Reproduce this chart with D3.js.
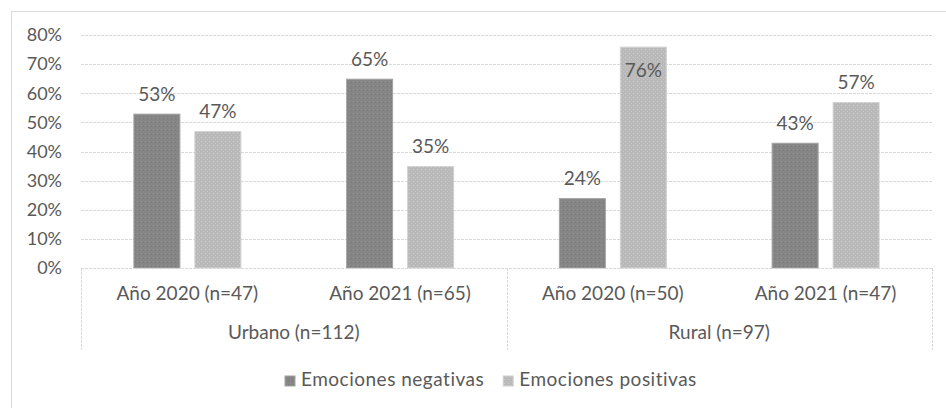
<!DOCTYPE html>
<html><head><meta charset="utf-8">
<script src="https://cdn.jsdelivr.net/npm/d3@7"></script>
<style>
html,body{margin:0;padding:0;background:#fff;}
svg{display:block;font-family:Lato,"Open Sans",sans-serif;}
</style></head>
<body>
<svg id="chart" width="946" height="408"></svg>
<script>
const categories = ["Año 2020 (n=47)","Año 2021 (n=65)","Año 2020 (n=50)","Año 2021 (n=47)"];
const groupLabels = ["Urbano (n=112)","Rural (n=97)"];
const groupOfCategory = [0,0,1,1];
const seriesNames = ["Emociones negativas","Emociones positivas"];
const negativas = [53,65,24,43];
const positivas = [47,35,76,57];
const yTicks = [0,10,20,30,40,50,60,70,80];

const W = 946, H = 408;
const svg = d3.select("#chart");
const textColor = "#595959";
const gridColor = "#d9d9d9";
const colors = ["#858585","#b9b9b9"];
const strokes = ["#a3a3a3","#d2d2d2"];
const fontSize = 19;

// patterns to mimic texture
const defs = svg.append("defs");
const p0 = defs.append("pattern").attr("id","pat0").attr("width",4).attr("height",4).attr("patternUnits","userSpaceOnUse");
p0.append("rect").attr("width",4).attr("height",4).attr("fill",colors[0]);
p0.append("rect").attr("x",1).attr("y",1).attr("width",1).attr("height",1).attr("fill","#929292");
p0.append("rect").attr("x",3).attr("y",2).attr("width",1).attr("height",1).attr("fill","#7a7a7a");
const p1 = defs.append("pattern").attr("id","pat1").attr("width",4).attr("height",4).attr("patternUnits","userSpaceOnUse");
p1.append("rect").attr("width",4).attr("height",4).attr("fill",colors[1]);
p1.append("rect").attr("x",1).attr("y",1).attr("width",1).attr("height",1).attr("fill","#cdcdcd");
p1.append("rect").attr("x",3).attr("y",3).attr("width",1).attr("height",1).attr("fill","#c6c6c6");

// chart border (top/left visible)
svg.append("rect").attr("x",11.5).attr("y",11.5).attr("width",W).attr("height",H)
  .attr("fill","none").attr("stroke",gridColor);

const plot = {left:81, right:932, top:35, bottom:268};
const y = d3.scaleLinear().domain([0,80]).range([plot.bottom, plot.top]);
const x = d3.scaleBand().domain(categories.map((c,i)=>i)).range([plot.left, plot.right]).padding(0);
const groupW = 108;
const xi = d3.scaleBand().domain([0,1]).range([0,groupW]).paddingInner(2-108/61).paddingOuter(0);

// gridlines
svg.append("g").selectAll("line").data(yTicks.filter(t=>t>0)).join("line")
  .attr("x1",plot.left).attr("x2",plot.right)
  .attr("y1",d=>Math.round(y(d))+0.5).attr("y2",d=>Math.round(y(d))+0.5)
  .attr("stroke",gridColor).attr("stroke-dasharray","3,1");

// y axis labels
const yAxis = d3.axisLeft(y).tickValues(yTicks).tickFormat(d=>d+"%").tickSize(0).tickPadding(19);
const ya = svg.append("g").attr("transform",`translate(${plot.left},0)`).call(yAxis);
ya.select(".domain").remove();
ya.selectAll("text").attr("fill",textColor).style("font-size","18px").style("font-family","Lato");

// bars
const data = [];
categories.forEach((c,i)=>{
  data.push({cat:i, s:0, v:negativas[i]});
  data.push({cat:i, s:1, v:positivas[i]});
});
const bx = d => x(d.cat) + (x.bandwidth()-groupW)/2 + xi(d.s);
svg.append("g").selectAll("rect").data(data).join("rect")
  .attr("x",d=>bx(d)+0.5).attr("width",xi.bandwidth()-1)
  .attr("y",d=>y(d.v)+0.5).attr("height",d=>y(0)-y(d.v)-0.5)
  .attr("fill",d=>`url(#pat${d.s})`).attr("stroke",d=>strokes[d.s]).attr("stroke-width",1);

// data labels
svg.append("g").selectAll("text").data(data).join("text")
  .attr("x",d=>bx(d)+xi.bandwidth()/2)
  .attr("y",d=>{ const above = y(d.v)-13; return (above - fontSize*0.75 < plot.top) ? y(d.v)+30 : above; })
  .attr("text-anchor","middle").attr("fill",textColor).style("font-size",fontSize+"px")
  .text(d=>d.v+"%");

// category axis box
const boxBottom = 350;
const axisG = svg.append("g");
axisG.append("line").attr("x1",plot.left).attr("x2",plot.right).attr("y1",plot.bottom+0.5).attr("y2",plot.bottom+0.5)
  .attr("stroke",gridColor).attr("stroke-dasharray","3,1");
const seps = [x(0), x(2), x(3)+x.bandwidth()];
axisG.selectAll("line.sep").data(seps).join("line").attr("class","sep")
  .attr("x1",d=>Math.round(d)+0.5).attr("x2",d=>Math.round(d)+0.5)
  .attr("y1",plot.bottom).attr("y2",boxBottom)
  .attr("stroke",gridColor).attr("stroke-dasharray","3,1");

axisG.selectAll("text.cat").data(categories).join("text").attr("class","cat")
  .attr("x",(d,i)=>x(i)+x.bandwidth()/2).attr("y",300)
  .attr("text-anchor","middle").attr("fill",textColor).style("font-size",fontSize+"px").text(d=>d);

axisG.selectAll("text.grp").data(groupLabels).join("text").attr("class","grp")
  .attr("x",(d,g)=>{
    const idx = categories.map((c,i)=>i).filter(i=>groupOfCategory[i]===g);
    const a = x(idx[0]), b = x(idx[idx.length-1]) + x.bandwidth();
    return (a+b)/2;
  }).attr("y",339)
  .attr("text-anchor","middle").attr("fill",textColor).style("font-size",fontSize+"px").text(d=>d);

// legend
const legend = svg.append("g");
const items = legend.selectAll("g").data(seriesNames).join("g");
items.append("rect").attr("width",10).attr("height",10).attr("y",-10)
  .attr("fill",(d,i)=>`url(#pat${i})`).attr("stroke",(d,i)=>strokes[i]);
items.append("text").attr("x",16).attr("fill",textColor).style("font-size",fontSize+"px")
  .style("letter-spacing","0.5px").text(d=>d);
let cx = 0; const pos = [];
items.each(function(){ pos.push(cx); cx += this.getBBox().width + 19; });
const total = cx - 19;
items.attr("transform",(d,i)=>`translate(${pos[i]},0)`);
legend.attr("transform",`translate(${Math.round(490.5-total/2)},386)`);
</script>
</body></html>
